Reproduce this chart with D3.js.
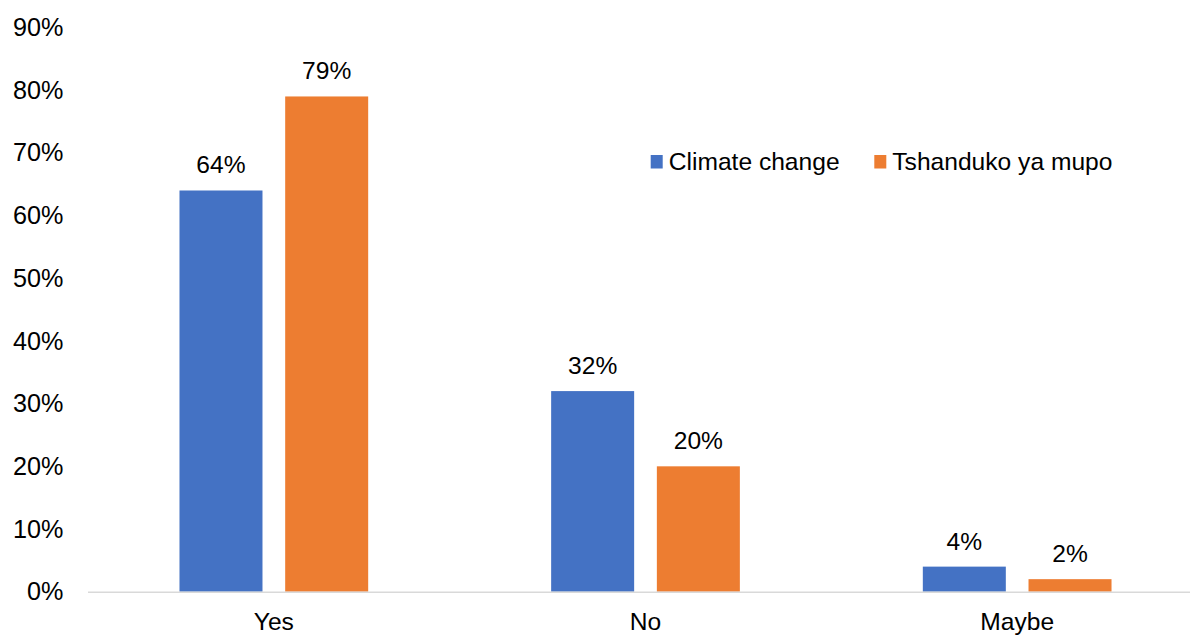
<!DOCTYPE html>
<html>
<head>
<meta charset="utf-8">
<script src="https://cdn.jsdelivr.net/npm/d3@7"></script>
<style>
  html, body { margin: 0; padding: 0; background: #fff; }
  svg { display: block; font-family: "Liberation Sans", Arial, sans-serif; }
</style>
</head>
<body>
<svg id="chart" width="1190" height="635"></svg>
<script>
// Survey answers, by term used in the question
const categories = ["Yes", "No", "Maybe"];
const seriesNames = ["Climate change", "Tshanduko ya mupo"];
const climateChange = [64, 32, 4];
const tshandukoYaMupo = [79, 20, 2];
const yTicks = [0, 10, 20, 30, 40, 50, 60, 70, 80, 90];
const colors = ["#4472C4", "#ED7D31"];

const width = 1190, height = 635;
const fontSize = 24.6;
const svg = d3.select("#chart");

const rows = categories.map((c, i) => ({
  category: c,
  values: [climateChange[i], tshandukoYaMupo[i]]
}));

const x = d3.scaleBand().domain(categories).range([88, 1203]).paddingInner(0).paddingOuter(0);
const xs = d3.scaleBand().domain(seriesNames)
  .range([0, 188.7]).paddingInner(22.7 / 105.7).paddingOuter(0);
const groupOffset = (x.bandwidth() - 188.7) / 2;
const y = d3.scaleLinear().domain([0, 90]).range([591.7, 27.5]);

// Y axis labels (no axis line)
const yAxis = svg.append("g")
  .attr("transform", "translate(63.5,0)")
  .call(d3.axisLeft(y).tickValues(yTicks).tickFormat(d => d + "%").tickSize(0).tickPadding(0));
yAxis.select(".domain").remove();
yAxis.selectAll("text")
  .attr("font-size", fontSize + 0.6)
  .attr("fill", "#000")
  .attr("font-family", "Liberation Sans, Arial, sans-serif");

// Bars
const groups = svg.append("g").selectAll("g")
  .data(rows)
  .join("g")
  .attr("transform", d => `translate(${x(d.category) + groupOffset},0)`);

groups.selectAll("rect")
  .data(d => d.values.map((v, i) => ({ name: seriesNames[i], value: v, i })))
  .join("rect")
  .attr("x", d => xs(d.name))
  .attr("width", xs.bandwidth())
  .attr("y", d => y(d.value))
  .attr("height", d => y(0) - y(d.value))
  .attr("fill", d => colors[d.i]);

// Value labels
groups.selectAll("text")
  .data(d => d.values.map((v, i) => ({ name: seriesNames[i], value: v, i })))
  .join("text")
  .attr("x", d => xs(d.name) + xs.bandwidth() / 2)
  .attr("y", d => y(d.value) - 17)
  .attr("text-anchor", "middle")
  .attr("font-size", fontSize)
  .attr("fill", "#000")
  .text(d => d.value + "%");

// X axis baseline and category labels
const xAxis = svg.append("g")
  .attr("transform", `translate(0,${y(0)})`)
  .call(d3.axisBottom(x).tickSize(0).tickPadding(0));
xAxis.select(".domain")
  .attr("d", `M88,0.5H${width}`)
  .attr("stroke", "#D9D9D9")
  .attr("stroke-width", 1.5);
xAxis.selectAll("text")
  .attr("font-size", fontSize)
  .attr("fill", "#000")
  .attr("font-family", "Liberation Sans, Arial, sans-serif")
  .attr("dy", null)
  .attr("y", 38.5);

// Legend
const legendPos = [650.7, 874.3];
const legend = svg.append("g").selectAll("g")
  .data(seriesNames)
  .join("g")
  .attr("transform", (d, i) => `translate(${legendPos[i]},155)`);
legend.append("rect")
  .attr("width", 12).attr("height", 13.5)
  .attr("fill", (d, i) => colors[i]);
legend.append("text")
  .attr("x", 18)
  .attr("y", 14.5)
  .attr("font-size", fontSize)
  .attr("fill", "#000")
  .text(d => d);
</script>
</body>
</html>
